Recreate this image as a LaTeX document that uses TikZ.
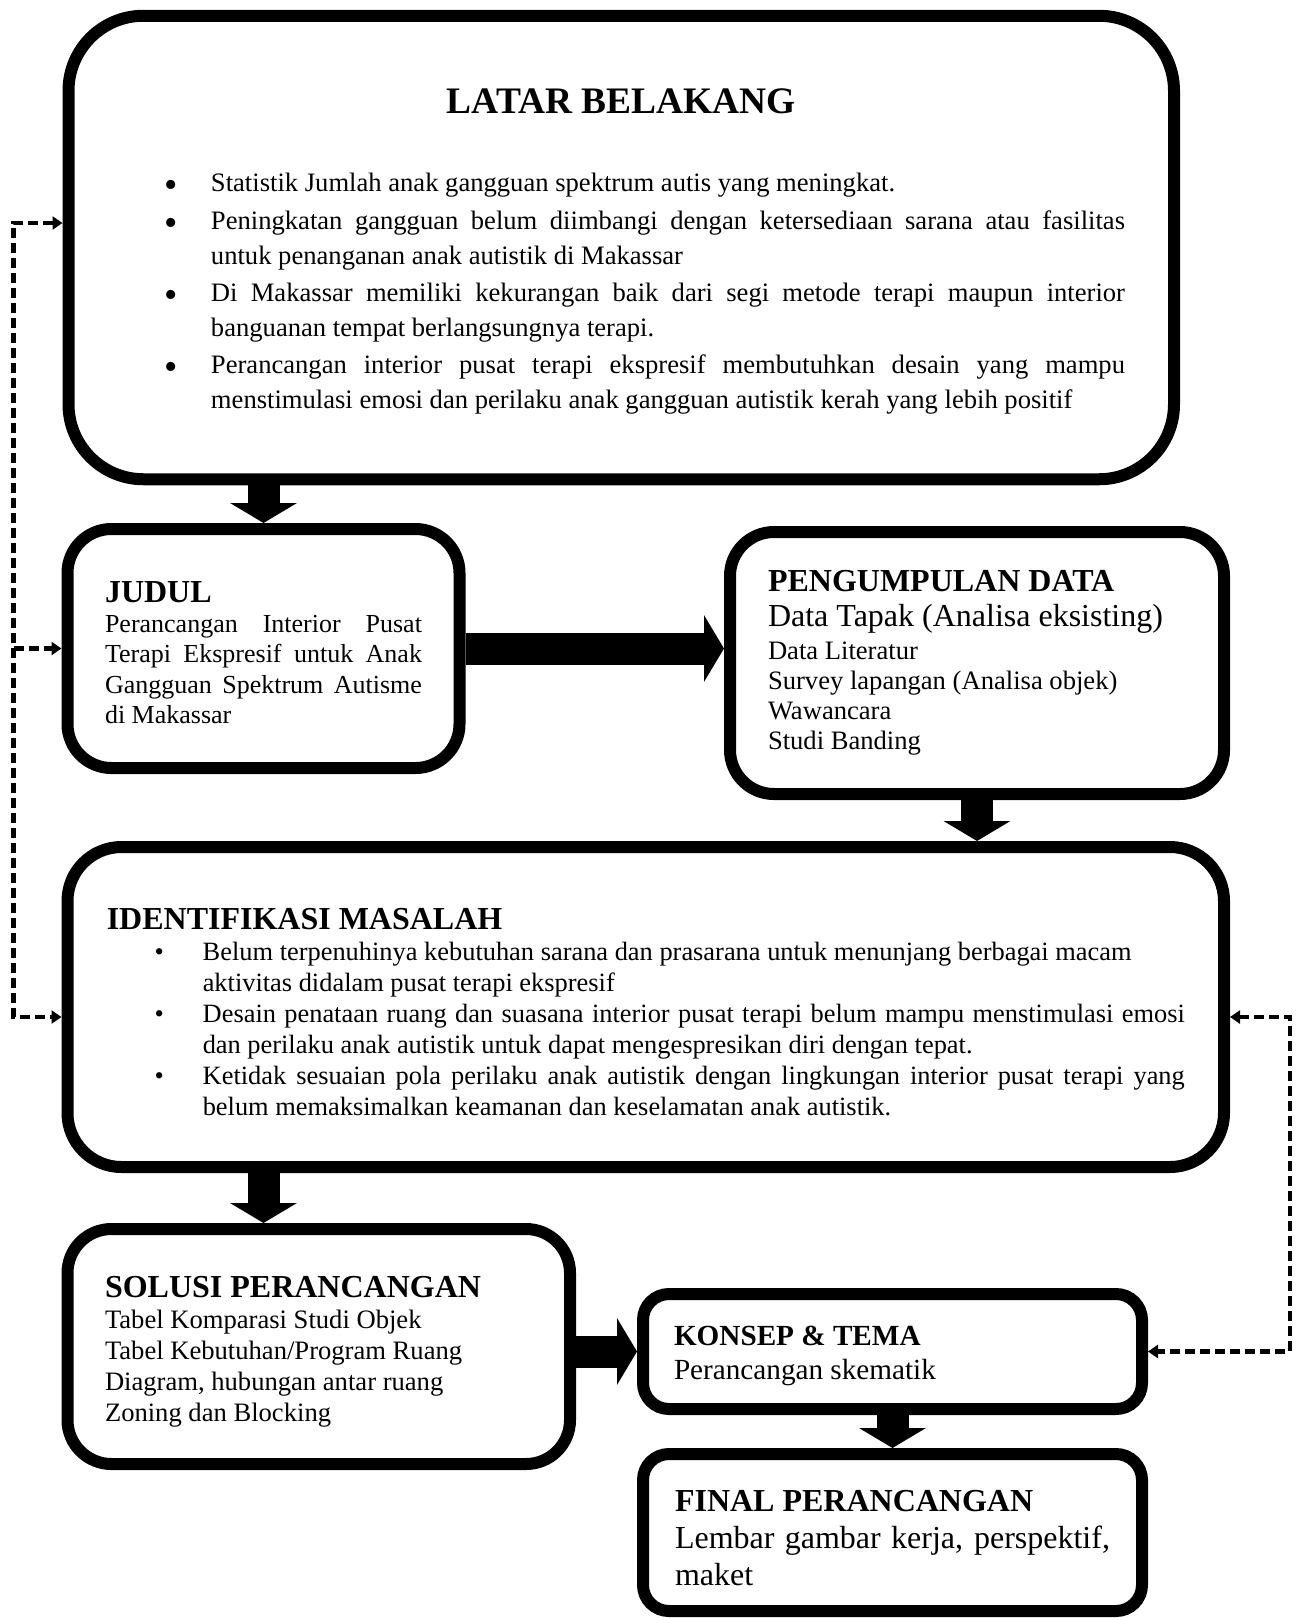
\documentclass[tikz,border=0pt]{standalone}
\usepackage{fontspec}
\setmainfont{Liberation Serif}
\usetikzlibrary{arrows.meta, positioning}

\setlength{\parindent}{0pt}
\hyphenpenalty=10000

\newcommand{\boxtitle}[2][0pt]{{\fontsize{16}{19}\selectfont\bfseries\rule{0pt}{#1}#2\par}}
\newcommand{\tanda}{\textbullet}
\newcommand{\butir}[2][23pt]{\par\hangindent=#1\hangafter=1\makebox[#1][l]{\tanda}#2\par}

\begin{document}
\begin{tikzpicture}[x=0.5pt, y=-0.5pt,
  box/.style={draw, line width=6pt, rounded corners=#1, inner sep=0pt, align=justify},
  bigarrow/.style={line width=16pt, -{Triangle[length=10pt, width=33pt]}},
  feedback/.style={line width=2.2pt, dash pattern=on 5pt off 2.5pt},
  >={Triangle[length=5pt, width=6.5pt]}]

  \useasboundingbox (0,0) rectangle (1299,1618);

  \node[box=37.5pt, minimum width=552.75pt, minimum height=231.75pt, text width=503.75pt,
    font=\fontsize{13.3}{17.5}\selectfont] (latar) at (621.25,247.5) {%
    \renewcommand{\tanda}{\raisebox{-3pt}{\fontsize{19}{19}\selectfont\textbullet}}%
    {\centering\fontsize{18.7}{20}\selectfont\bfseries\rule{0pt}{16.4pt}LATAR BELAKANG\par}
    \vspace{20.5pt}\leftskip=23.75pt \parskip=1.2pt
    \butir{Statistik Jumlah anak gangguan spektrum autis yang meningkat.}
    \butir{Peningkatan gangguan belum diimbangi dengan ketersediaan sarana atau fasilitas\linebreak untuk penanganan anak autistik di Makassar}
    \butir{Di Makassar memiliki kekurangan baik dari segi metode terapi maupun interior\linebreak banguanan tempat berlangsungnya terapi.}
    \butir{Perancangan interior pusat terapi ekspresif membutuhkan desain yang mampu\linebreak menstimulasi emosi dan perilaku anak gangguan autistik kerah yang lebih positif}};

  \node[box=22pt, minimum width=196pt, minimum height=119.5pt, text width=158.5pt,
    font=\fontsize{13}{15.2}\selectfont] (judul) at (263.5,648.5) {%
    \boxtitle[14.6pt]{JUDUL}
    Perancangan Interior Pusat\linebreak Terapi Ekspresif untuk Anak\linebreak Gangguan Spektrum Autisme\linebreak di Makassar};

  \node[box=22pt, minimum width=247pt, minimum height=131pt, text width=209pt,
    font=\fontsize{13.3}{15}\selectfont] (data) at (977,663) {%
    \boxtitle{PENGUMPULAN DATA}
    {\fontsize{16}{17.5}\selectfont Data Tapak (Analisa eksisting)\par}
    \vspace{1.5pt}
    Data Literatur\par
    Survey lapangan (Analisa objek)\par
    Wawancara\par
    Studi Banding};

  \node[box=27pt, minimum width=578.25pt, minimum height=160pt, text width=539pt,
    font=\fontsize{13.2}{15.5}\selectfont] (masalah) at (645.75,1007) {%
    \boxtitle[15.6pt]{IDENTIFIKASI MASALAH}
    \leftskip=24pt
    \butir[24pt]{Belum terpenuhinya kebutuhan sarana dan prasarana untuk menunjang berbagai macam\newline aktivitas didalam pusat terapi ekspresif}
    \butir[24pt]{Desain penataan ruang dan suasana interior pusat terapi belum mampu menstimulasi emosi\linebreak dan perilaku anak autistik untuk dapat mengespresikan diri dengan tepat.}
    \butir[24pt]{Ketidak sesuaian pola perilaku anak autistik dengan lingkungan interior pusat terapi yang\linebreak belum memaksimalkan keamanan dan keselamatan anak autistik.}};

  \node[box=22pt, minimum width=251.25pt, minimum height=117.5pt, text width=213.75pt,
    font=\fontsize{13.3}{15.5}\selectfont] (solusi) at (318.75,1346.5) {%
    \boxtitle[15.6pt]{SOLUSI PERANCANGAN}
    Tabel Komparasi Studi Objek\par
    Tabel Kebutuhan/Program Ruang\par
    Diagram, hubungan antar ruang\par
    Zoning dan Blocking};

  \node[box=13pt, minimum width=249.5pt, minimum height=57.5pt, text width=218.5pt,
    font=\fontsize{14.6}{17}\selectfont] (konsep) at (892.5,1351.5) {%
    {\bfseries\rule{0pt}{13.7pt}KONSEP \& TEMA\par}
    Perancangan skematik};

  \node[box=13pt, minimum width=249.5pt, minimum height=78.5pt, text width=217.5pt,
    font=\fontsize{16}{18.5}\selectfont] (final) at (892.5,1532.5) {%
    {\bfseries\rule{0pt}{16.6pt}FINAL PERANCANGAN\par}
    Lembar gambar kerja, perspektif, maket};

  % alur utama
  \draw[bigarrow] (judul.north |- latar.south) -- (judul.north);
  \draw[bigarrow] (judul.east) -- (judul.east -| data.west);
  \draw[bigarrow] (data.south) -- (data.south |- masalah.north);
  \draw[bigarrow] (judul.south |- masalah.south) -- (judul.south |- solusi.north);
  \draw[bigarrow] (solusi.east |- konsep.west) -- (konsep.west);
  \draw[bigarrow] (konsep.south) -- (final.north);

  % umpan balik
  \coordinate (kiri) at (13.5,223);
  \coordinate (kanan) at (1290,1017);
  \draw[feedback, <->] (latar.west |- kiri) -- (kiri) -- (kiri |- kanan) -- (masalah.west |- kanan);
  \draw[feedback, ->] (kiri |- judul.west) -- (judul.west);
  \draw[feedback, <->] (masalah.east |- kanan) -- (kanan) -- (kanan |- konsep.east) -- (konsep.east);
\end{tikzpicture}
\end{document}
